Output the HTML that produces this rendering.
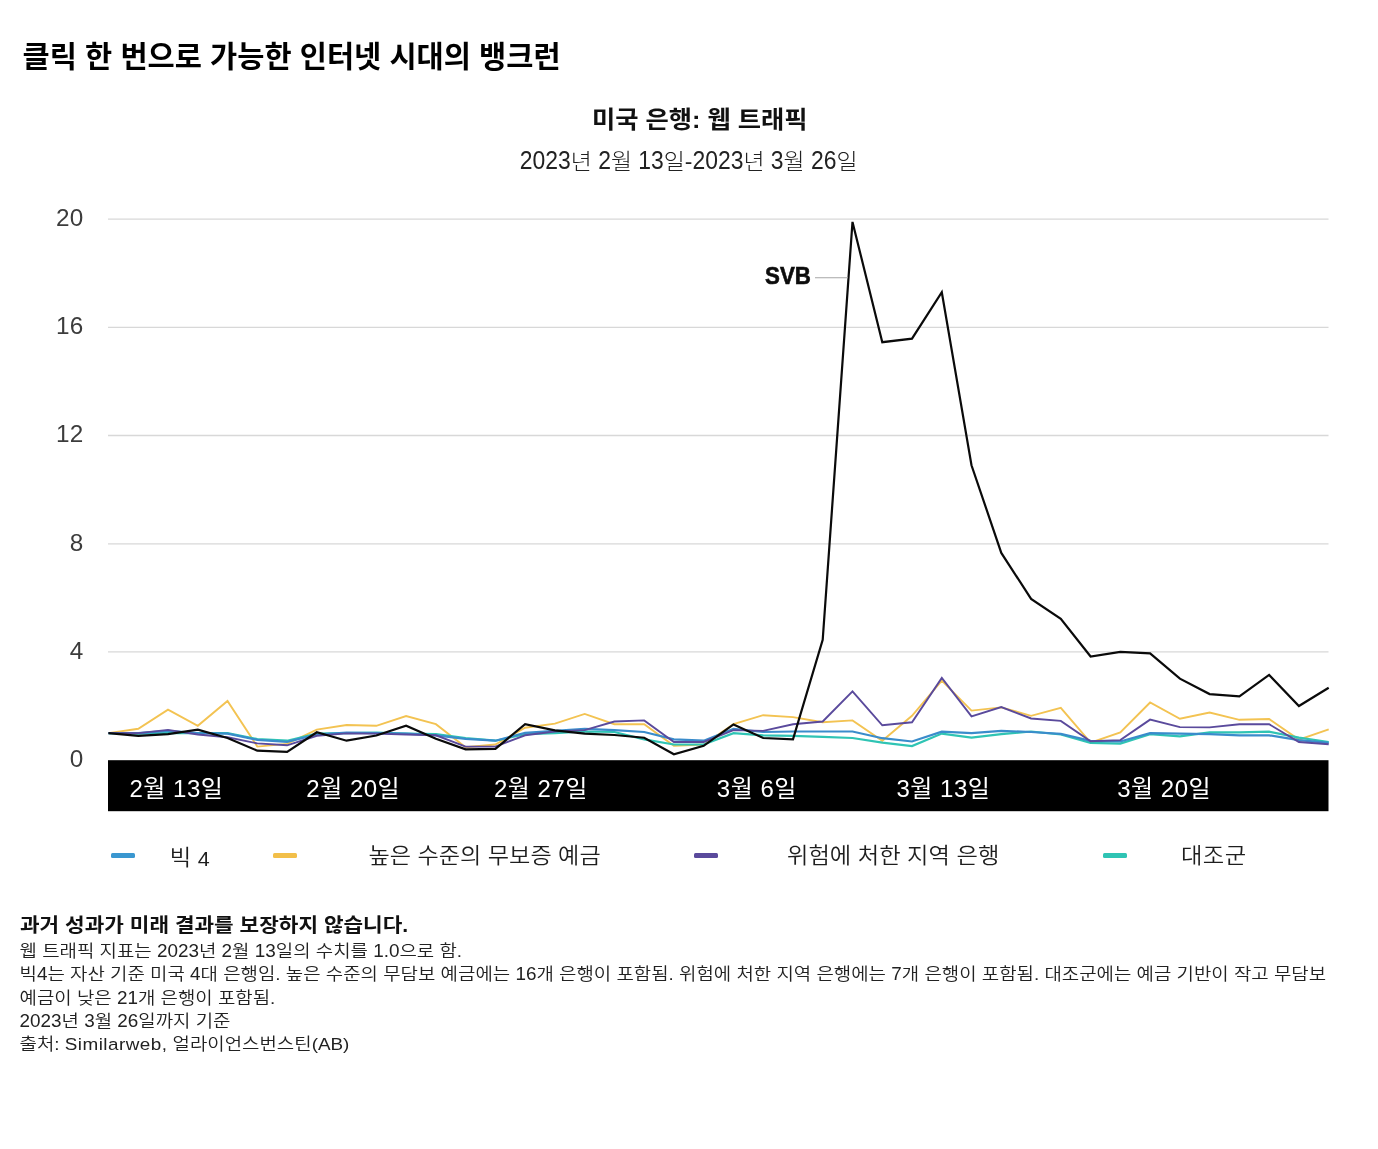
<!DOCTYPE html>
<html lang="ko">
<head>
<meta charset="utf-8">
<title>클릭 한 번으로 가능한 인터넷 시대의 뱅크런</title>
<style>
html,body{margin:0;padding:0;background:#fff;}
body{width:1378px;height:1149px;position:relative;overflow:hidden;font-family:"Liberation Sans","Noto Sans CJK KR",sans-serif;color:#111;}
.abs{position:absolute;white-space:nowrap;line-height:1;}
h1{margin:0;font-size:29.52px;font-weight:700;left:22.6px;top:42.1px;color:#000;}
.ct{transform:scaleY(.95);transform-origin:0 55%;font-size:25.3px;font-weight:700;left:0;width:1399.5px;text-align:center;top:106.6px;color:#111;}
.cs{transform:scaleY(.95);transform-origin:0 55%;font-size:22.9px;font-weight:300;left:0;width:1377.4px;text-align:center;top:149.7px;color:#222;}
svg{position:absolute;left:0;top:0;}
.grid line{stroke:#d8d8d8;stroke-width:1.3;}
.ylab text{font-family:"Liberation Sans",sans-serif;font-size:24.3px;fill:#3c3c3c;text-anchor:end;letter-spacing:0.2px;}
.ln{fill:none;stroke-linejoin:miter;stroke-linecap:butt;}
.xl{fill:#fff;font-family:"Liberation Sans","Noto Sans CJK KR",sans-serif;font-size:24px;font-weight:400;letter-spacing:0.5px;}
.lg{transform:scaleY(.95);transform-origin:0 55%;font-size:23.3px;font-weight:350;color:#1e1e1e;top:843.6px;}
.dash{position:absolute;top:852.6px;height:5.8px;width:24px;border-radius:1.5px;}
.d{display:inline-block;transform:scaleY(1.1);transform-origin:0 84%;}
.ds{display:inline-block;transform:scaleY(1.2);transform-origin:0 84%;}
.fn{transform:scaleY(.91);transform-origin:0 55%;left:19.5px;font-size:18.9px;font-weight:350;color:#222;}
.fnb{transform:scaleY(.92);transform-origin:0 55%;left:20px;font-size:21.3px;font-weight:700;color:#111;top:915.4px;}
</style>
</head>
<body>
<h1 class="abs">클릭 한 번으로 가능한 인터넷 시대의 뱅크런</h1>
<div class="abs ct">미국 은행: 웹 트래픽</div>
<div class="abs cs"><span class="ds">2023</span>년 <span class="ds">2</span>월 <span class="ds">13</span>일-<span class="ds">2023</span>년 <span class="ds">3</span>월 <span class="ds">26</span>일</div>
<svg width="1378" height="1149" viewBox="0 0 1378 1149">
<g class="grid"><line x1="108" x2="1328.5" y1="651.9" y2="651.9"/><line x1="108" x2="1328.5" y1="543.8" y2="543.8"/><line x1="108" x2="1328.5" y1="435.5" y2="435.5"/><line x1="108" x2="1328.5" y1="327.3" y2="327.3"/><line x1="108" x2="1328.5" y1="219.1" y2="219.1"/></g>
<g class="ylab"><text x="83.5" y="767.0">0</text><text x="83.5" y="658.8">4</text><text x="83.5" y="550.6">8</text><text x="83.5" y="442.4">12</text><text x="83.5" y="334.2">16</text><text x="83.5" y="226.0">20</text></g>
<polyline class="ln" stroke="#f3c352" stroke-width="1.9" points="108.5,733.1 138.3,728.8 168.0,709.6 197.8,725.8 227.5,700.9 257.3,746.6 287.1,743.9 316.8,729.6 346.6,725.0 376.3,725.8 406.1,716.1 435.9,724.2 465.6,747.2 495.4,744.5 525.1,727.7 554.9,723.6 584.7,713.9 614.4,724.2 644.2,724.2 673.9,745.8 703.7,744.5 733.5,724.2 763.2,715.2 793.0,717.1 822.7,722.3 852.5,720.4 882.3,740.7 912.0,715.8 941.8,680.6 971.5,710.6 1001.3,707.4 1031.1,715.8 1060.8,707.9 1090.6,742.6 1120.3,732.3 1150.1,702.5 1179.9,718.8 1209.6,712.5 1239.4,719.8 1269.1,719.0 1298.9,739.6 1328.7,729.3"/>
<polyline class="ln" stroke="#2fc4b4" stroke-width="2.2" points="108.5,733.1 138.3,733.6 168.0,733.1 197.8,733.1 227.5,733.1 257.3,739.1 287.1,740.7 316.8,733.6 346.6,733.1 376.3,732.6 406.1,733.6 435.9,734.2 465.6,738.0 495.4,740.7 525.1,734.2 554.9,733.1 584.7,731.5 614.4,732.0 644.2,739.3 673.9,744.5 703.7,744.5 733.5,733.1 763.2,735.3 793.0,735.8 822.7,736.9 852.5,738.0 882.3,742.6 912.0,746.1 941.8,733.6 971.5,737.7 1001.3,734.2 1031.1,731.5 1060.8,734.5 1090.6,742.8 1120.3,743.6 1150.1,734.2 1179.9,736.3 1209.6,732.3 1239.4,732.3 1269.1,731.7 1298.9,737.7 1328.7,742.0"/>
<polyline class="ln" stroke="#3a8ccb" stroke-width="2.2" points="108.5,733.1 138.3,733.1 168.0,730.9 197.8,733.1 227.5,733.6 257.3,739.9 287.1,741.8 316.8,734.5 346.6,732.6 376.3,733.1 406.1,733.6 435.9,735.3 465.6,738.8 495.4,740.7 525.1,732.8 554.9,730.9 584.7,728.8 614.4,730.1 644.2,732.0 673.9,739.3 703.7,740.7 733.5,728.8 763.2,732.0 793.0,731.5 822.7,731.5 852.5,731.5 882.3,738.2 912.0,741.5 941.8,731.7 971.5,733.1 1001.3,730.9 1031.1,732.0 1060.8,733.9 1090.6,740.9 1120.3,741.5 1150.1,733.1 1179.9,733.6 1209.6,734.2 1239.4,735.3 1269.1,735.3 1298.9,740.1 1328.7,742.8"/>
<polyline class="ln" stroke="#5a4a9c" stroke-width="1.9" points="108.5,733.1 138.3,733.1 168.0,729.9 197.8,734.5 227.5,737.2 257.3,743.4 287.1,745.3 316.8,735.8 346.6,733.4 376.3,733.6 406.1,734.5 435.9,735.3 465.6,746.6 495.4,746.6 525.1,735.3 554.9,731.5 584.7,730.1 614.4,721.5 644.2,720.4 673.9,742.0 703.7,742.0 733.5,730.1 763.2,730.9 793.0,724.2 822.7,721.5 852.5,691.4 882.3,725.3 912.0,722.3 941.8,677.9 971.5,716.3 1001.3,707.1 1031.1,718.5 1060.8,720.9 1090.6,741.2 1120.3,740.1 1150.1,719.6 1179.9,727.1 1209.6,727.4 1239.4,724.2 1269.1,724.2 1298.9,742.0 1328.7,744.2"/>
<polyline class="ln" stroke="#0a0a0a" stroke-width="2.2" points="108.5,733.1 138.3,735.8 168.0,734.2 197.8,729.6 227.5,738.0 257.3,750.7 287.1,751.8 316.8,732.3 346.6,740.7 376.3,735.5 406.1,725.8 435.9,738.8 465.6,749.3 495.4,748.8 525.1,724.2 554.9,730.4 584.7,733.6 614.4,735.0 644.2,737.7 673.9,754.2 703.7,745.8 733.5,724.4 763.2,738.0 793.0,739.3 822.7,639.8 852.5,221.9 882.3,342.2 912.0,338.7 941.8,292.2 971.5,465.3 1001.3,552.9 1031.1,598.9 1060.8,618.9 1090.6,656.5 1120.3,651.9 1150.1,653.3 1179.9,678.7 1209.6,694.1 1239.4,696.3 1269.1,674.9 1298.9,706.0 1328.7,687.7"/>
<rect x="108" y="760.2" width="1220.5" height="51" fill="#000"/>
<line x1="815" x2="848" y1="277.7" y2="277.7" stroke="#a6a6a6" stroke-width="1.1"/>
<text transform="translate(765.1,284.3) scale(1,1.1)" font-family="Liberation Sans, sans-serif" font-weight="700" font-size="22.3" fill="#0c0c0c" stroke="#0c0c0c" stroke-width="0.55">SVB</text>
<g class="xl">
<text x="129.5" y="797.4">2월 13일</text>
<text x="306.3" y="797.4">2월 20일</text>
<text x="494" y="797.4">2월 27일</text>
<text x="716.8" y="797.4">3월 6일</text>
<text x="896.5" y="797.4">3월 13일</text>
<text x="1117.2" y="797.4">3월 20일</text>
</g>
</svg>
<div class="dash" style="left:110.5px;background:#3a97d0"></div>
<div class="abs lg" style="left:169.8px;top:846px">빅 <span style="font-size:21.5px;position:relative;top:1.2px">4</span></div>
<div class="dash" style="left:272.5px;background:#f2bf49"></div>
<div class="abs lg" style="left:368.5px;font-size:23.15px">높은 수준의 무보증 예금</div>
<div class="dash" style="left:693.5px;background:#5a4a9c"></div>
<div class="abs lg" style="left:787px">위험에 처한 지역 은행</div>
<div class="dash" style="left:1103px;background:#2fc4b4"></div>
<div class="abs lg" style="left:1181px;letter-spacing:0.4px">대조군</div>
<div class="abs fnb">과거 성과가 미래 결과를 보장하지 않습니다.</div>
<div class="abs fn" style="top:941.8px">웹 트래픽 지표는 <span class="d">2023</span>년 <span class="d">2</span>월 <span class="d">13</span>일의 수치를 <span class="d">1.0</span>으로 함.</div>
<div class="abs fn" style="top:965.4px">빅<span class="d">4</span>는 자산 기준 미국 <span class="d">4</span>대 은행임. 높은 수준의 무담보 예금에는 <span class="d">16</span>개 은행이 포함됨. 위험에 처한 지역 은행에는 <span class="d">7</span>개 은행이 포함됨. 대조군에는 예금 기반이 작고 무담보</div>
<div class="abs fn" style="top:989.0px">예금이 낮은 <span class="d">21</span>개 은행이 포함됨.</div>
<div class="abs fn" style="top:1011.9px"><span class="d">2023</span>년 <span class="d">3</span>월 <span class="d">26</span>일까지 기준</div>
<div class="abs fn" style="top:1035.0px">출처: <span style="letter-spacing:0.45px">Similarweb,</span> 얼라이언스번스틴(AB)</div>
</body>
</html>
